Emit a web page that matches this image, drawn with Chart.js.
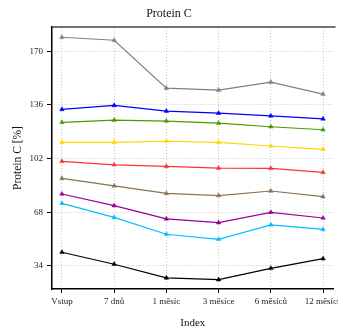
<!DOCTYPE html>
<html>
<head>
<meta charset="utf-8">
<script src="https://cdn.jsdelivr.net/npm/chart.js@4"></script>
<style>
  html, body { margin: 0; padding: 0; background: #fff; overflow: hidden; }
  #wrap { width: 338px; height: 331px; position: relative; }
</style>
</head>
<body>
<div id="wrap"><canvas id="myChart"></canvas></div>
<script>
'use strict';
const labels = ['Vstup', '7 dnů', '1 měsíc', '3 měsíce', '6 měsíců', '12 měsíců'];
const yTicks = [34, 68, 102, 136, 170];

const grey = [178.9, 177.0, 146.7, 145.4, 150.5, 142.9];
const blue = [133.2, 135.7, 132.1, 130.8, 129.1, 127.2];
const green = [125.0, 126.4, 125.8, 124.5, 122.2, 120.3];
const yellow = [112.3, 112.3, 113.0, 112.3, 110.0, 107.9];
const red = [100.3, 98.1, 97.1, 96.0, 95.8, 93.3];
const brown = [89.5, 84.7, 80.0, 78.6, 81.5, 77.9];
const purple = [79.6, 72.2, 63.8, 61.4, 68.0, 64.4];
const cyan = [73.7, 64.8, 54.1, 50.9, 60.0, 57.2];
const black = [42.7, 35.1, 26.4, 25.3, 32.5, 38.6];

const series = [
  {values: grey, color: '#808080'},
  {values: blue, color: '#0000ff'},
  {values: green, color: '#4c9900'},
  {values: yellow, color: '#ffd700'},
  {values: red, color: '#ff3333'},
  {values: brown, color: '#8b7355'},
  {values: purple, color: '#990099'},
  {values: cyan, color: '#00bfff'},
  {values: black, color: '#000000'},
];

const serif = 'Liberation Serif, Times New Roman, serif';

// top frame line of the plot box
const topFrame = {
  id: 'topFrame',
  afterDraw(chart) {
    const c = chart.ctx;
    const a = chart.chartArea;
    c.save();
    c.strokeStyle = '#444';
    c.lineWidth = 1.5;
    c.beginPath();
    c.moveTo(a.left, a.top);
    c.lineTo(a.right + 2, a.top);
    c.stroke();
    c.restore();
  }
};

function chartRender() {
  let ctx = document.getElementById('myChart').getContext('2d');
  new Chart(ctx, {
    type: 'line',
    data: {
      datasets: series.map(s => ({
        data: s.values.map((v, i) => ({x: i, y: v})),
        borderColor: s.color,
        backgroundColor: s.color,
        borderWidth: 1.2,
        pointStyle: 'triangle',
        pointRadius: 2.6,
        pointBorderWidth: 0.5,
        tension: 0
      }))
    },
    options: {
      responsive: true,
      maintainAspectRatio: false,
      animation: false,
      layout: {padding: {left: 0, right: 0, top: 0, bottom: 0}},
      plugins: {
        legend: {display: false},
        tooltip: {enabled: false},
        title: {
          display: true,
          text: 'Protein C',
          color: '#111',
          font: {family: serif, size: 12, weight: 'normal'},
          padding: {top: 7, bottom: 5.6}
        }
      },
      scales: {
        x: {
          type: 'linear',
          min: -0.19,
          max: 5.2,
          afterBuildTicks: axis => {
            axis.ticks = labels.map((l, i) => ({value: i}));
          },
          afterFit: axis => {
            axis.height = 42;
            axis.paddingLeft = 0;
            axis.paddingRight = 0;
          },
          ticks: {
            autoSkip: false,
            maxRotation: 0,
            color: '#222',
            padding: 3,
            font: {family: serif, size: 9},
            callback: v => labels[v]
          },
          grid: {
            color: '#c8c8c8',
            tickColor: '#000',
            tickLength: 4,
            tickBorderDash: []
          },
          border: {display: true, color: '#000', width: 1.5, dash: [1, 2]},
          title: {
            display: true,
            text: 'Index',
            color: '#111',
            font: {family: serif, size: 11},
            padding: {top: 2, bottom: 1}
          }
        },
        y: {
          min: 19.4,
          max: 185.4,
          afterBuildTicks: axis => {
            axis.ticks = yTicks.map(v => ({value: v}));
          },
          afterFit: axis => {
            axis.width = 52;
            axis.paddingTop = 0;
            axis.paddingBottom = 0;
          },
          ticks: {
            color: '#222',
            padding: 4,
            font: {family: serif, size: 9}
          },
          grid: {
            color: '#c8c8c8',
            tickColor: '#000',
            tickLength: 5,
            tickBorderDash: []
          },
          border: {display: true, color: '#000', width: 1.5, dash: [1, 2]},
          title: {
            display: true,
            text: 'Protein C [%]',
            color: '#111',
            font: {family: serif, size: 11.5},
            padding: {top: 11, bottom: 4}
          }
        }
      }
    },
    plugins: [topFrame]
  });
}
chartRender();
</script>
</body>
</html>
